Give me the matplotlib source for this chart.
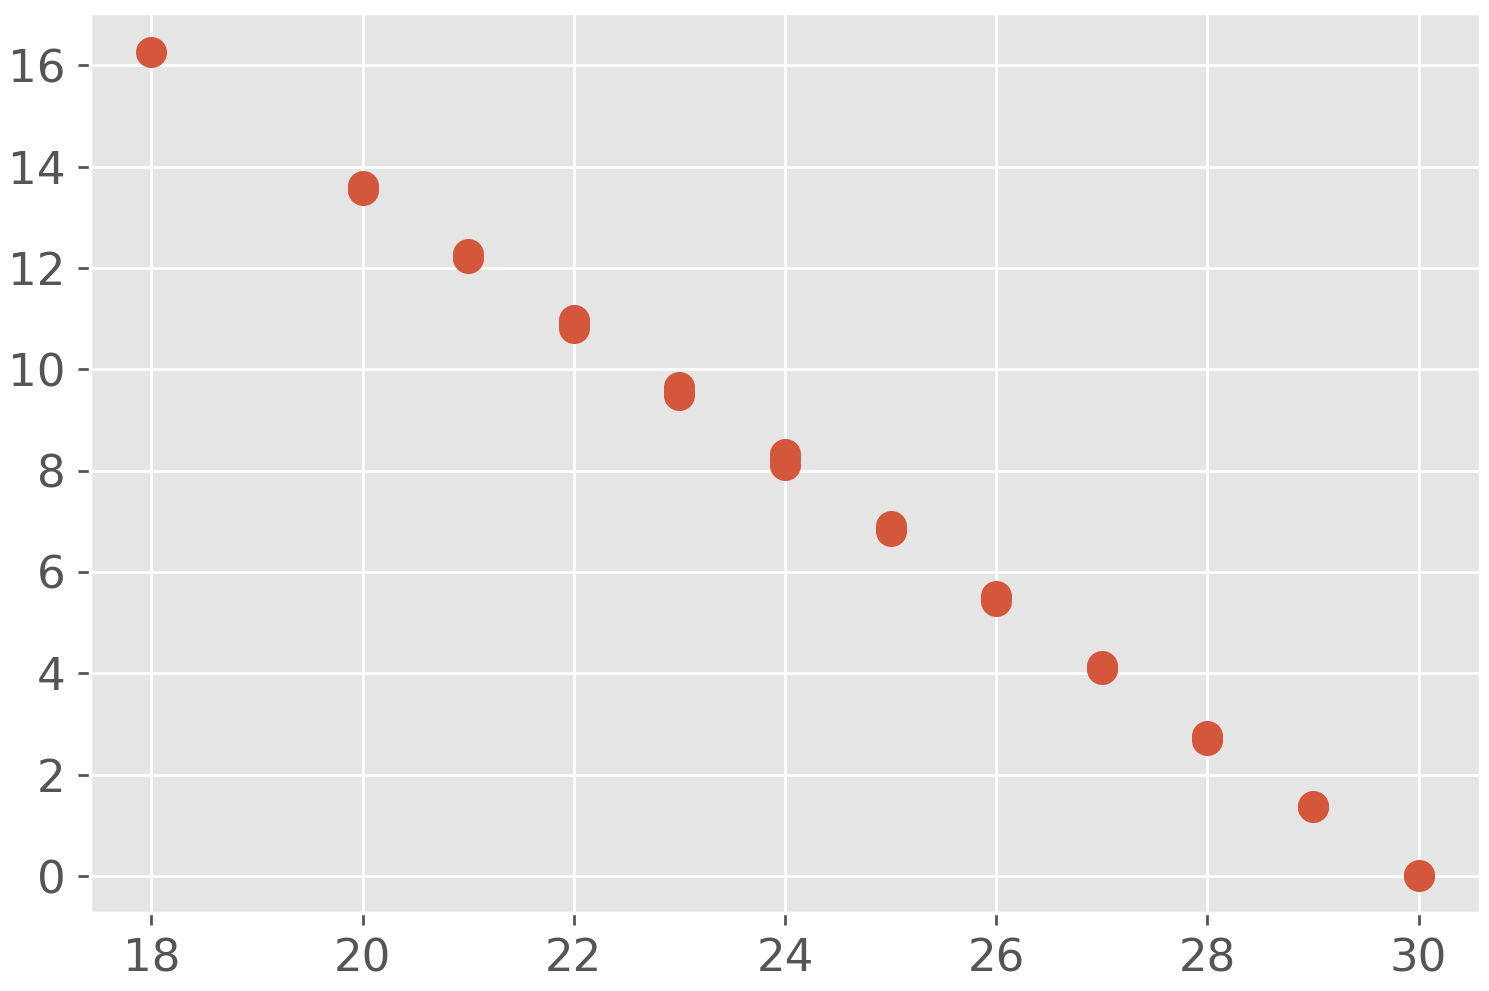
import matplotlib
matplotlib.use("Agg")
import matplotlib.pyplot as plt

plt.style.use("ggplot")

# points, several near-duplicates per x
x_vals = [18,
          20, 20, 20,
          21, 21, 21,
          22, 22, 22,
          23, 23, 23,
          24, 24, 24,
          25, 25, 25,
          26, 26, 26,
          27, 27, 27,
          28, 28, 28,
          29, 29,
          30, 30]
y_vals = [16.26,
          13.53, 13.57, 13.61,
          12.20, 12.24, 12.28,
          10.81, 10.89, 10.97,
          9.49, 9.56, 9.64,
          8.12, 8.22, 8.33,
          6.80, 6.85, 6.91,
          5.42, 5.48, 5.53,
          4.08, 4.11, 4.14,
          2.69, 2.73, 2.77,
          1.37, 1.38,
          0.0, 0.01]

fig, ax = plt.subplots(figsize=(1489 / 250, 991 / 250), dpi=250)
fig.subplots_adjust(left=90 / 1489, right=1480 / 1489, top=1 - 13 / 991, bottom=1 - 913 / 991)

ax.scatter(x_vals, y_vals, s=80, color="#D5573B", linewidths=0)

ax.set_xlim(17.42, 30.58)
ax.set_ylim(-0.73, 17.03)
ax.set_xticks([18, 20, 22, 24, 26, 28, 30])
ax.set_yticks([0, 2, 4, 6, 8, 10, 12, 14, 16])
ax.tick_params(labelsize=13)

fig.savefig("out.png", dpi=250)
